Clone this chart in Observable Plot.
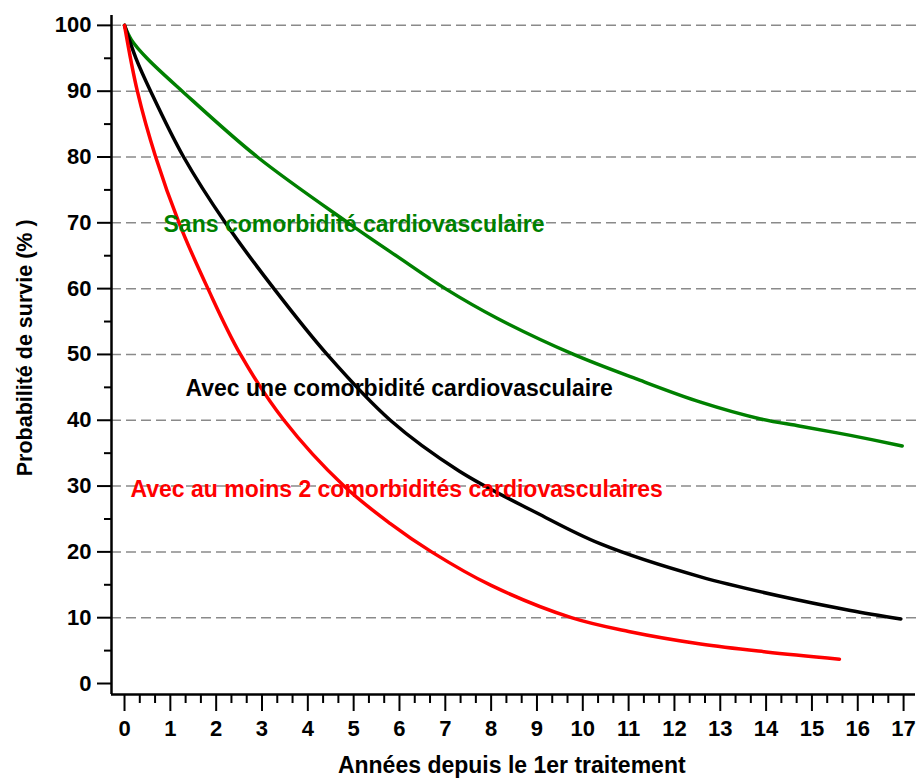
<!DOCTYPE html>
<html>
<head>
<meta charset="utf-8">
<script src="https://cdn.jsdelivr.net/npm/d3@7"></script>
<script src="https://cdn.jsdelivr.net/npm/@observablehq/plot@0.6"></script>
<style>
  body { margin: 0; background: #fff; }
  #chart svg { font-family: "Liberation Sans", Arial, sans-serif; }
</style>
</head>
<body>
<div id="chart"></div>
<script>
// Survival curves (years since 1st treatment, survival %)
const greenYears = [0, 0.15, 0.49, 1.26, 2.9, 4.88, 5.95, 7.0, 8.13, 9.8, 11.2, 12.57, 13.88, 14.75, 15.84, 16.97];
const greenVals  = [100, 97.8, 95, 90, 80, 70, 64.9, 60, 55.5, 50, 46.2, 42.75, 40.2, 39.1, 37.7, 36.1];

const blackYears = [0, 0.25, 0.57, 1.29, 2.2, 3.26, 4.42, 5.8, 7.3, 9.0, 10.39, 12.57, 14.75, 15.84, 16.94];
const blackVals  = [100, 95, 90, 80, 70, 60, 50, 40, 32.3, 25.9, 21.2, 16.2, 12.6, 11.1, 9.8];

const redYears = [0, 0.28, 0.68, 1.19, 1.82, 2.53, 3.48, 4.79, 5.8, 6.7, 8.0, 9.75, 11.0, 12.57, 14.0, 15.6];
const redVals  = [100, 90, 80, 70, 60, 50, 40, 30, 24.3, 20, 14.9, 10, 7.9, 6.0, 4.8, 3.7];

const xTicks = d3.range(0, 18);
const yTicks = d3.range(0, 101, 10);
const gridLines = d3.range(10, 101, 10);
const xMinor = d3.range(0, 17).flatMap(i => [i + 1/3, i + 2/3]);
const yMinor = d3.range(5, 100, 10);

const labelText  = ["Sans comorbidité cardiovasculaire", "Avec une comorbidité cardiovasculaire", "Avec au moins 2 comorbidités cardiovasculaires"];
const labelX     = [0.851, 1.331, 0.131];
const labelY     = [69.8, 44.8, 29.5];
const seriesColors = ["#008000", "#000000", "#ff0000"];

const labels = labelText.map((text, i) => ({text, x: labelX[i], y: labelY[i], color: seriesColors[i]}));

const series = [
  {years: greenYears, vals: greenVals},
  {years: blackYears, vals: blackVals},
  {years: redYears, vals: redVals}
];
const rows = series.flatMap((s, k) => s.years.map((t, i) => ({t, v: s.vals[i], k, color: seriesColors[k]})));

const chart = Plot.plot({
  width: 919,
  height: 778,
  marginLeft: 111,
  marginRight: 4,
  marginTop: 15,
  marginBottom: 84,
  style: {fontFamily: "'Liberation Sans', Arial, sans-serif", fontWeight: "bold", fontSize: "22px", color: "#000"},
  x: {domain: [-0.284, 17.26]},
  y: {domain: [-1.67, 101.5]},
  marks: [
    Plot.ruleY(gridLines, {stroke: "#8a8a8a", strokeDasharray: "10,5", strokeWidth: 1.5, x1: -0.284, x2: 17.5}),
    Plot.line(rows, {x: "t", y: "v", z: "k", stroke: "color", strokeWidth: 3.5, curve: "catmull-rom"}),
    Plot.text(labels, {x: "x", y: "y", text: "text", fill: "color", textAnchor: "start", fontSize: 23, fontWeight: "bold"}),
    Plot.axisX({ticks: xTicks, tickSize: 17, tickPadding: 9, strokeWidth: 2, fontSize: 22, fontWeight: "bold", label: null}),
    Plot.axisX({ticks: xMinor, tickSize: 9, strokeWidth: 2, text: null, label: null}),
    Plot.axisY({ticks: yTicks, tickSize: 14, tickPadding: 6, strokeWidth: 2, fontSize: 22, fontWeight: "bold", label: null}),
    Plot.axisY({ticks: yMinor, tickSize: 7, strokeWidth: 2, text: null, label: null}),
    Plot.ruleX([-0.284], {y1: -1.67, y2: 101.5, strokeWidth: 2.5}),
    Plot.ruleY([-1.67], {x1: -0.284, x2: 17.26, strokeWidth: 2.5}),
    Plot.text(["Années depuis le 1er traitement"], {frameAnchor: "bottom", dy: 78, fontSize: 23, fontWeight: "bold", x: 8.45}),
    Plot.text(["Probabilité de survie (% )"], {frameAnchor: "left", textAnchor: "middle", dx: -86, rotate: -90, fontSize: 21.5, fontWeight: "bold", y: 51})
  ]
});
document.getElementById("chart").appendChild(chart);
</script>
</body>
</html>
